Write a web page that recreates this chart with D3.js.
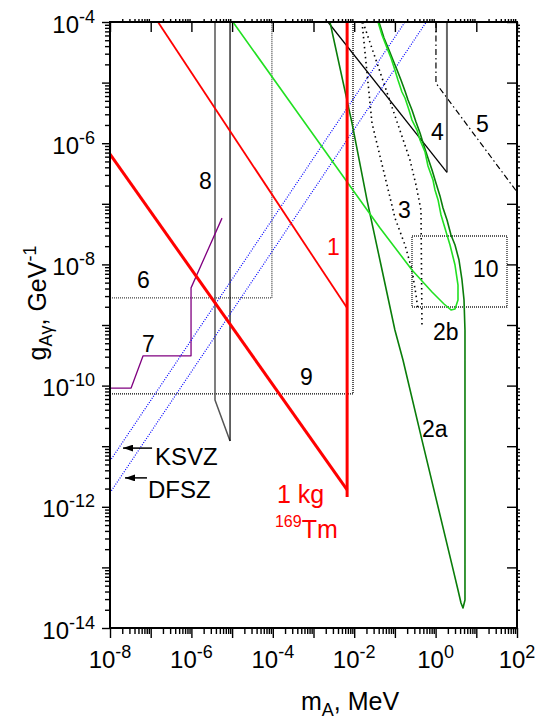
<!DOCTYPE html>
<html>
<head>
<meta charset="utf-8">
<script src="https://cdn.jsdelivr.net/npm/d3@7"></script>
<style>
  body { margin: 0; background: #fff; }
  svg { display: block; font-family: "Liberation Sans", Arial, sans-serif; }
</style>
</head>
<body>
<svg id="chart" width="537" height="724"></svg>
<script>
// ---- data (m_A in MeV, g_Agamma in GeV^-1) ----
const xLabelExps = [-8, -6, -4, -2, 0, 2];
const yLabelExps = [-14, -12, -10, -8, -6, -4];

const tmThick = [[1e-8, 6.6e-7], [6.7e-3, 1.9e-12]];
const tmEdge = [[6.7e-3, 1.45e-12], [6.7e-3, 1e-4]];
const curve1 = [[1.51e-7, 1e-4], [6.7e-3, 1.9e-9]];
const ksvz = [[1e-8, 5.7e-12], [0.177, 1e-4]];
const dfsz = [[1e-8, 1.7e-12], [0.59, 1e-4]];

const curve2a = [
  [2.54e-3, 1e-4], [8.83e-3, 2.15e-6], [0.0206, 1.16e-7], [0.0455, 9.77e-9],
  [0.1, 8.26e-10], [0.158, 2.64e-10], [0.463, 1.26e-11], [2.53, 1.1e-13],
  [3.55, 4.24e-14], [4.21, 2.59e-14], [4.71, 2.14e-14], [5.27, 2.9e-14],
  [5.27, 8.26e-10], [4.99, 2.59e-9], [4.45, 5.53e-9], [3.76, 1.18e-8],
  [3.0, 2.09e-8], [2.39, 3.05e-8], [1.91, 5.41e-8], [1.52, 8.53e-8],
  [1.28, 1.35e-7], [1.02, 2.2e-7], [0.817, 3.61e-7], [0.65, 5.7e-7],
  [0.519, 9.0e-7], [0.414, 1.47e-6], [0.33, 2.24e-6], [0.263, 3.53e-6],
  [0.21, 5.16e-6], [0.177, 7.26e-6], [0.141, 1.1e-5], [0.113, 1.61e-5],
  [0.0897, 2.36e-5], [0.0716, 3.45e-5], [0.054, 5.45e-5], [0.0406, 1e-4]
];
const curve2b = [
  [1.05e-5, 1e-4], [4.66e-4, 2.81e-6], [7.88e-3, 1.97e-7], [0.0431, 3.99e-8],
  [0.263, 8.09e-9], [0.817, 3.51e-9], [1.61, 2.22e-9], [2.39, 1.77e-9],
  [3.0, 1.84e-9], [3.55, 2.59e-9], [3.55, 4.57e-9], [3.0, 9.77e-9],
  [2.26, 2.09e-8], [1.61, 4.47e-8], [1.36, 6.53e-8], [1.15, 1.16e-7],
  [0.966, 1.69e-7], [0.863, 2.47e-7], [0.65, 4.21e-7], [0.55, 7.16e-7],
  [0.414, 1.13e-6], [0.349, 1.65e-6], [0.263, 2.41e-6], [0.222, 3.53e-6],
  [0.177, 5.57e-6], [0.149, 7.0e-6], [0.119, 1.1e-5], [0.1, 1.61e-5],
  [0.0802, 2.55e-5], [0.064, 3.73e-5], [0.0482, 6.1e-5], [0.0385, 1e-4]
];
const curve3a = [[0.01556, 1e-4], [0.02735, 2.15e-6], [0.1005, 5.83e-8], [0.177, 2.09e-8],
  [0.263, 8.09e-9], [0.33, 3.13e-9], [0.37, 1.77e-9]];
const curve3b = [[0.01645, 1e-4], [0.0897, 3.53e-6], [0.235, 5.28e-7], [0.33, 2.04e-7],
  [0.4375, 7.9e-8], [0.463, 8.9e-10]];
const curve4 = [[2.27e-3, 1e-4], [1.9, 3.3e-7]];
const curve4edge = [[1.9, 1e-4], [1.9, 3.3e-7]];
const curve5 = [[1.02, 1e-4], [1.02, 9.8e-6], [100, 1.57e-7]];
const curve6 = [[1e-8, 2.8e-9], [9.5e-5, 2.8e-9], [9.5e-5, 1e-4]];
const curve7 = [[1e-8, 9.1e-11], [3.3e-8, 9.1e-11], [6.5e-8, 3.1e-10], [9.8e-7, 3.1e-10],
  [9.8e-7, 4.1e-9], [5.65e-6, 5.8e-8]];
const curve8a = [[3.8e-6, 1e-4], [3.8e-6, 5.8e-11], [8.9e-6, 1.22e-11]];
const curve8b = [[8.9e-6, 1e-4], [8.9e-6, 1.22e-11]];
const curve9 = [[1e-8, 7.3e-11], [9.35e-3, 7.3e-11], [9.35e-3, 1e-4]];
const box10 = [[0.263, 2.94e-8], [56.8, 2.94e-8], [56.8, 1.98e-9], [0.263, 1.98e-9], [0.263, 2.94e-8]];

const arrows = [
  [[1.08e-7, 9.3e-12], [2.09e-8, 9.3e-12]],
  [[8.1e-8, 3.0e-12], [2.34e-8, 3.0e-12]]
];
const labels = [
  { t: '1', m: 2.15e-3, g: 1.43e-8, c: '#ff0000' },
  { t: '8', m: 1.54e-6, g: 1.75e-7 },
  { t: '6', m: 4.6e-8, g: 4.08e-9 },
  { t: '7', m: 6.1e-8, g: 3.58e-10 },
  { t: '9', m: 4.66e-4, g: 1.02e-10 },
  { t: 'KSVZ', m: 1.28e-7, g: 4.9e-12 },
  { t: 'DFSZ', m: 8.6e-8, g: 1.4e-12 },
  { t: '3', m: 0.119, g: 5.83e-8 },
  { t: '4', m: 0.771, g: 1.13e-6 },
  { t: '5', m: 9.84, g: 1.53e-6 },
  { t: '2b', m: 0.863, g: 5.65e-10 },
  { t: '10', m: 8.3, g: 6.19e-9 },
  { t: '2a', m: 0.463, g: 1.42e-11 }
];

// ---- layout ----
const margin = { top: 22, left: 110 };
const pw = 407, ph = 606;
const x = d3.scaleLog().domain([1e-8, 1e2]).range([0, pw]);
const y = d3.scaleLog().domain([1e-14, 1e-4]).range([ph, 0]);

const svg = d3.select('#chart');
const g = svg.append('g').attr('transform', `translate(${margin.left},${margin.top})`);

const defs = svg.append('defs');
defs.append('clipPath').attr('id', 'clip').append('rect').attr('width', pw).attr('height', ph);
defs.append('marker').attr('id', 'arr')
  .attr('viewBox', '0 0 10 7').attr('refX', 10).attr('refY', 3.5)
  .attr('markerUnits', 'userSpaceOnUse').attr('markerWidth', 10).attr('markerHeight', 7)
  .attr('orient', 'auto')
  .append('path').attr('d', 'M0,0L10,3.5L0,7Z').attr('fill', '#000');

// ticks
const decades = d3.range(-14, 3);
const majors = decades.map(e => Math.pow(10, e));
const minors = decades.flatMap(e => d3.range(2, 10).map(k => k * Math.pow(10, e)));
const xMaj = majors.filter(v => v >= 1e-8 && v <= 1e2);
const xMin = minors.filter(v => v > 1e-8 && v < 1e2);
const yMaj = majors.filter(v => v >= 1e-14 && v <= 1e-4);
const yMin = minors.filter(v => v > 1e-14 && v < 1e-4);

function addAxis(axis, tr) {
  const a = g.append('g').attr('transform', tr || null).call(axis);
  a.select('.domain').remove();
  a.selectAll('line').attr('stroke', '#000').attr('stroke-width', 1.4);
}
addAxis(d3.axisBottom(x).tickValues(xMaj).tickSize(10).tickFormat(''), `translate(0,${ph})`);
addAxis(d3.axisBottom(x).tickValues(xMin).tickSize(6).tickFormat(''), `translate(0,${ph})`);
addAxis(d3.axisTop(x).tickValues(xMaj).tickSize(-10).tickFormat(''));
addAxis(d3.axisTop(x).tickValues(xMin).tickSize(3).tickFormat(''));
addAxis(d3.axisLeft(y).tickValues(yMaj).tickSize(8).tickFormat(''));
addAxis(d3.axisLeft(y).tickValues(yMin).tickSize(5).tickFormat(''));
addAxis(d3.axisRight(y).tickValues(yMaj).tickSize(-10).tickFormat(''), `translate(${pw},0)`);
addAxis(d3.axisRight(y).tickValues(yMin).tickSize(3).tickFormat(''), `translate(${pw},0)`);

// tick labels
xLabelExps.forEach(e => {
  const t = g.append('text').attr('x', x(Math.pow(10, e))).attr('y', ph + 40)
    .attr('text-anchor', 'middle').attr('font-size', 24);
  t.append('tspan').text('10');
  t.append('tspan').attr('font-size', 18).attr('dy', -10).text(e);
});
yLabelExps.forEach(e => {
  const t = g.append('text').attr('x', -15).attr('y', y(Math.pow(10, e)) + 10.5)
    .attr('text-anchor', 'end').attr('font-size', 24);
  t.append('tspan').text('10');
  t.append('tspan').attr('font-size', 18).attr('dy', -10).text(e);
});

// axis titles
const xt = svg.append('text').attr('x', 350).attr('y', 710).attr('text-anchor', 'middle').attr('font-size', 25);
xt.append('tspan').text('m');
xt.append('tspan').attr('font-size', 18).attr('dy', 6).text('A');
xt.append('tspan').attr('dy', -6).text(', MeV');

const yt = svg.append('text').attr('transform', 'translate(46,303) rotate(-90)')
  .attr('text-anchor', 'middle').attr('font-size', 25);
yt.append('tspan').text('g');
yt.append('tspan').attr('font-size', 18).attr('dy', 6).text('Aγ');
yt.append('tspan').attr('dy', -6).text(', GeV');
yt.append('tspan').attr('font-size', 18).attr('dy', -10).text('-1');

// curves
const plot = g.append('g').attr('clip-path', 'url(#clip)');
const line = d3.line().x(d => x(d[0])).y(d => y(d[1]));
function draw(data, stroke, width, dash) {
  plot.append('path').datum(data).attr('d', line)
    .attr('fill', 'none').attr('stroke', stroke).attr('stroke-width', width)
    .attr('stroke-dasharray', dash || null).attr('stroke-linejoin', 'round');
}

draw(curve6, '#444', 1.3, '1,1');
draw(curve9, '#000', 1.3, '1,1');
draw(box10, '#222', 1.3, '1,1');
draw(curve3a, '#000', 1.6, '1.5,3.5');
draw(curve3b, '#000', 1.6, '1.5,3.5');
draw(curve5, '#000', 1.2, '6,3,1.5,3');
draw(curve8a, '#555', 1.5);
draw(curve8b, '#000', 1.2);
draw(curve4edge, '#666', 2);
draw(curve4, '#000', 1.3);
draw(curve7, '#800080', 1.3);
draw(ksvz, '#0000ff', 1.2, '1,1.5');
draw(dfsz, '#0000ff', 1.2, '1,1.5');
draw(curve2a, '#0a7d0a', 1.6);
draw(curve2b, '#22e022', 1.6);
draw(curve1, '#ff0000', 1.8);
draw(tmEdge, '#ff0000', 3);
draw(tmThick, '#ff0000', 3);

// arrows
arrows.forEach(a => {
  g.append('line')
    .attr('x1', x(a[0][0])).attr('y1', y(a[0][1]))
    .attr('x2', x(a[1][0])).attr('y2', y(a[1][1]))
    .attr('stroke', '#000').attr('stroke-width', 1.5).attr('marker-end', 'url(#arr)');
});

// labels
labels.forEach(l => {
  g.append('text').attr('x', x(l.m)).attr('y', y(l.g))
    .attr('font-size', l.t === 'KSVZ' || l.t === 'DFSZ' ? 24 : 23)
    .attr('fill', l.c || '#000').text(l.t);
});
g.append('text').attr('x', x(1.27e-4)).attr('y', y(1.16e-12))
  .attr('font-size', 25).attr('fill', '#ff0000').text('1 kg');
const tm2 = g.append('text').attr('x', x(1.13e-4)).attr('y', y(3.05e-13))
  .attr('font-size', 25).attr('fill', '#ff0000');
tm2.append('tspan').attr('font-size', 16).attr('dy', -11).text('169');
tm2.append('tspan').attr('dy', 11).text('Tm');

// frame
g.append('rect').attr('width', pw).attr('height', ph)
  .attr('fill', 'none').attr('stroke', '#000').attr('stroke-width', 2);
</script>
</body>
</html>
